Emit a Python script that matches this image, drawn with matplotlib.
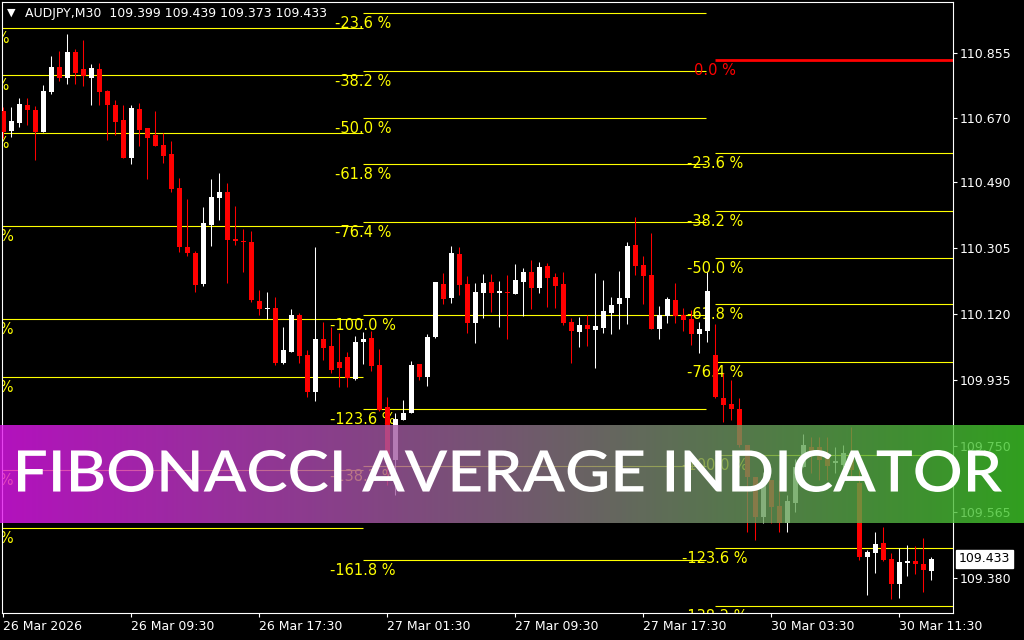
import matplotlib
matplotlib.use('Agg')
import matplotlib.pyplot as plt
import numpy as np
from matplotlib.textpath import TextPath
from matplotlib.patches import PathPatch
from matplotlib.font_manager import FontProperties
from matplotlib.transforms import Affine2D, ScaledTranslation, blended_transform_factory

# AUDJPY M30 candles
opens = [110.691, 110.634, 110.658, 110.707, 110.693, 110.632, 110.744, 110.814, 110.784, 110.856,
         110.808, 110.784, 110.808, 110.747, 110.707, 110.665, 110.559, 110.696, 110.643, 110.623,
         110.595, 110.570, 110.474, 110.308, 110.292, 110.205, 110.371, 110.447, 110.463, 110.331,
         110.326, 110.323, 110.157, 110.135, 110.137, 109.982, 110.014, 110.118, 110.005, 109.902,
         110.050, 110.032, 109.986, 110.001, 109.938, 110.043, 110.054, 109.978, 109.860, 109.711,
         109.823, 109.843, 109.980, 109.944, 110.056, 110.205, 110.165, 110.289, 110.205, 110.095,
         110.179, 110.210, 110.179, 110.182, 110.177, 110.210, 110.238, 110.193, 110.255, 110.224,
         110.205, 110.098, 110.070, 110.090, 110.076, 110.081, 110.123, 110.149, 110.165, 110.314,
         110.258, 110.230, 110.078, 110.115, 110.160, 110.118, 110.106, 110.064, 110.073, 110.005,
         109.885, 109.868, 109.854, 109.753, 109.664, 109.551, 109.654, 109.581, 109.535, 109.591,
         109.692, 109.748, 109.748, 109.720, 109.704, 109.697, 109.730, 109.645, 109.439, 109.449,
         109.478, 109.433, 109.363, 109.422, 109.427, 109.419, 109.399]
highs = [110.701, 110.701, 110.727, 110.727, 110.704, 110.763, 110.845, 110.859, 110.907, 110.864,
         110.890, 110.822, 110.825, 110.749, 110.721, 110.707, 110.707, 110.713, 110.643, 110.690,
         110.629, 110.606, 110.502, 110.443, 110.297, 110.421, 110.499, 110.516, 110.488, 110.424,
         110.359, 110.354, 110.188, 110.182, 110.168, 110.085, 110.135, 110.123, 110.019, 110.309,
         110.098, 110.085, 110.067, 110.014, 110.059, 110.071, 110.073, 110.022, 109.888, 109.843,
         109.879, 109.989, 109.980, 110.064, 110.210, 110.236, 110.311, 110.309, 110.227, 110.207,
         110.233, 110.233, 110.213, 110.230, 110.261, 110.250, 110.272, 110.266, 110.264, 110.236,
         110.238, 110.109, 110.112, 110.118, 110.236, 110.216, 110.168, 110.241, 110.323, 110.393,
         110.283, 110.348, 110.143, 110.168, 110.207, 110.137, 110.132, 110.098, 110.238, 110.092,
         109.955, 109.935, 109.885, 109.753, 109.664, 109.678, 109.654, 109.654, 109.612, 109.713,
         109.784, 109.776, 109.776, 109.776, 109.748, 109.753, 109.804, 109.683, 109.458, 109.509,
         109.521, 109.450, 109.463, 109.472, 109.469, 109.491, 109.439]
lows = [110.615, 110.617, 110.646, 110.651, 110.553, 110.632, 110.738, 110.775, 110.766, 110.766,
        110.761, 110.707, 110.707, 110.609, 110.623, 110.559, 110.542, 110.592, 110.499, 110.593,
        110.545, 110.464, 110.295, 110.284, 110.183, 110.200, 110.311, 110.384, 110.208, 110.314,
        110.239, 110.153, 110.118, 110.106, 109.977, 109.980, 110.014, 109.984, 109.888, 109.876,
        109.991, 109.956, 109.916, 109.916, 109.935, 109.980, 109.961, 109.848, 109.640, 109.612,
        109.823, 109.843, 109.935, 109.918, 110.054, 110.149, 110.151, 110.174, 110.067, 110.039,
        110.109, 110.126, 110.084, 110.050, 110.177, 110.115, 110.135, 110.179, 110.140, 110.137,
        110.090, 109.983, 110.028, 110.031, 109.969, 110.067, 110.064, 110.078, 110.092, 110.230,
        110.149, 110.078, 110.050, 110.095, 110.095, 110.073, 110.033, 110.011, 110.042, 109.885,
        109.818, 109.823, 109.747, 109.509, 109.486, 109.533, 109.533, 109.508, 109.508, 109.565,
        109.692, 109.674, 109.654, 109.654, 109.674, 109.692, 109.654, 109.430, 109.332, 109.394,
        109.428, 109.320, 109.324, 109.386, 109.391, 109.341, 109.373]
closes = [110.632, 110.662, 110.710, 110.693, 110.632, 110.747, 110.814, 110.784, 110.856, 110.798,
          110.789, 110.811, 110.744, 110.707, 110.660, 110.559, 110.699, 110.637, 110.615, 110.593,
          110.565, 110.471, 110.309, 110.291, 110.202, 110.376, 110.449, 110.463, 110.328, 110.326,
          110.323, 110.160, 110.135, 110.137, 109.982, 110.019, 110.118, 110.003, 109.902, 110.050,
          110.026, 109.963, 109.970, 109.942, 110.042, 110.050, 109.975, 109.851, 109.702, 109.826,
          109.843, 109.977, 109.944, 110.056, 110.210, 110.163, 110.292, 110.202, 110.095, 110.182,
          110.207, 110.179, 110.185, 110.179, 110.216, 110.238, 110.193, 110.252, 110.222, 110.199,
          110.095, 110.073, 110.090, 110.078, 110.087, 110.129, 110.146, 110.165, 110.311, 110.255,
          110.227, 110.078, 110.118, 110.163, 110.115, 110.104, 110.064, 110.078, 110.185, 109.888,
          109.865, 109.855, 109.753, 109.664, 109.551, 109.654, 109.579, 109.533, 109.594, 109.692,
          109.753, 109.730, 109.711, 109.694, 109.706, 109.729, 109.683, 109.439, 109.453, 109.475,
          109.430, 109.363, 109.425, 109.427, 109.419, 109.402, 109.433]

symbol = 'AUDJPY,M30'
time_ticks = [0, 16, 32, 48, 64, 80, 96, 112]
time_labels = ['26 Mar 2026', '26 Mar 09:30', '26 Mar 17:30', '27 Mar 01:30',
               '27 Mar 09:30', '27 Mar 17:30', '30 Mar 03:30', '30 Mar 11:30']
price_ticks = [110.855, 110.670, 110.490, 110.305, 110.120, 109.935, 109.750, 109.565, 109.380]

# three fibonacci grids: (zero price, levels, start bar, end bar)
fib_range = 1.11
fib_a_levels = [-50.0, -61.8, -76.4, -100.0, -123.6, -138.2, -161.8, -176.4]
fib_b_levels = [-23.6, -38.2, -50.0, -61.8, -76.4, -100.0, -123.6, -138.2, -161.8]
fib_c_levels = [0.0, -23.6, -38.2, -50.0, -61.8, -76.4, -100.0, -123.6, -138.2]
fib_sets = [(111.478, fib_a_levels, -2.8, 44.92),
            (111.227, fib_b_levels, 44.96, 87.85),
            (110.834, fib_c_levels, 88.96, 118.7)]

banner_text = 'FIBONACCI AVERAGE INDICATOR'

o = np.array(opens); h = np.array(highs); l = np.array(lows); c = np.array(closes)
x = np.arange(len(o))

fig = plt.figure(figsize=(10.24, 6.4), dpi=100, facecolor='black')
ax = fig.add_axes([2.3 / 1024, 1 - 613.3 / 640, 950.4 / 1024, 611 / 640])
ax.set_facecolor('black')
for s in ax.spines.values():
    s.set_color('white')
    s.set_linewidth(0.8)

ax.set_xlim(-0.125, 118.675)
ax.set_ylim(109.280, 110.996)

# fib levels
lab_off = ScaledTranslation(0, -0.105, fig.dpi_scale_trans)
for zero, levels, x0, x1 in fib_sets:
    for lv in levels:
        y = zero + lv / 100 * fib_range
        col = '#FF0000' if lv == 0 else '#FFFF00'
        ax.hlines(y, x0, x1, colors=col, lw=2 if lv == 0 else 0.8, zorder=1)
        ax.text(x0, y, '%.1f %%' % lv, color=col, fontsize=10.5, ha='center', va='center',
                transform=ax.transData + lab_off, clip_on=True, zorder=2)

# candles
up = c >= o
cols = np.where(up, '#FFFFFF', '#FF0000')
ax.vlines(x, l, h, colors=cols, lw=0.75, zorder=3)
body_h = np.abs(c - o)
body_b = np.minimum(o, c)
small = body_h < 0.003
body_b = np.where(small, (o + c) / 2 - 0.0015, body_b)
body_h = np.where(small, 0.003, body_h)
ax.bar(x, body_h, width=0.625, bottom=body_b, color=cols, lw=0, zorder=4)

# axes ticks
ax.yaxis.tick_right()
ax.set_yticks(price_ticks)
ax.set_yticklabels(['%.3f' % p for p in price_ticks])
ax.set_xticks(time_ticks)
ax.set_xticklabels(time_labels)
for t in ax.get_xticklabels():
    t.set_horizontalalignment('left')
ax.tick_params(axis='both', colors='white', labelcolor='white', labelsize=9,
               length=3, width=0.8, direction='out')
ax.tick_params(axis='y', pad=2)
ax.tick_params(axis='x', pad=2)

# current price tag
ax.text(1.006, closes[-1], '%.3f' % closes[-1], color='black', fontsize=9, ha='left', va='center',
        transform=blended_transform_factory(ax.transAxes, ax.transData), clip_on=False,
        bbox=dict(boxstyle='square,pad=0.22', fc='white', ec='white'), zorder=10)

# header
fig.text(7 / 1024, 1 - 13 / 640, '\u25bc', color='white', fontsize=8, va='center')
fig.text(25 / 1024, 1 - 14 / 640,
         '%s  %.3f %.3f %.3f %.3f' % (symbol, opens[-1], highs[-1], lows[-1], closes[-1]),
         color='white', fontsize=9, va='center')

# banner
bax = fig.add_axes([0, 1 - 522.7 / 640, 1, 97.7 / 640], zorder=5)
g = np.linspace(0, 1, 512)[:, None]
left = np.array([225, 22, 238]) / 255
right = np.array([62, 200, 40]) / 255
img = (left * (1 - g) + right * g)[None, :, :]
bax.imshow(img, aspect='auto', alpha=0.8, extent=(0, 1, 0, 1))
bax.set_xlim(0, 1)
bax.set_ylim(0, 1)
bax.axis('off')

tp = TextPath((0, 0), banner_text, size=50, prop=FontProperties(family='Lato', weight='semibold'))
ext = tp.get_extents()
tx0, tx1 = 18 / 1024, 1002 / 1024
ty0, ty1 = (522.7 - 492) / 97.7, (522.7 - 450) / 97.7
tr = Affine2D().translate(-ext.x0, -ext.y0).scale((tx1 - tx0) / ext.width, (ty1 - ty0) / ext.height).translate(tx0, ty0)
bax.add_patch(PathPatch(tr.transform_path(tp), fc='white', ec='none', transform=bax.transAxes))

fig.savefig('out.png', dpi=100, facecolor='black')
